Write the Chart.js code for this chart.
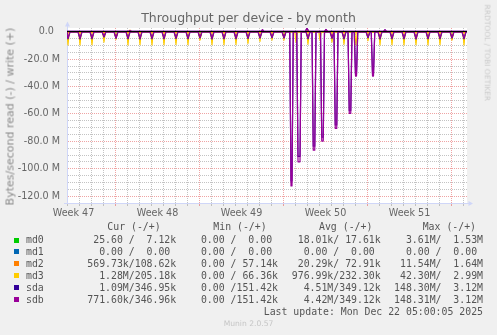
<!DOCTYPE html>
<html>
<head>
<meta charset="utf-8">
<title>Throughput per device - by month</title>
<script src="https://cdn.jsdelivr.net/npm/chart.js@4.4.1/dist/chart.umd.min.js"></script>
<style>
  html, body { margin: 0; padding: 0; background: #F0F0F0; }
  #wrap { position: relative; width: 497px; height: 335px; overflow: hidden; }
  #wrap canvas { position: absolute; left: 0; top: 0; }
  .txt { position: absolute; white-space: pre; line-height: 1; color: #666; font-family: 'DejaVu Sans', sans-serif; }
  .mono { font-family: 'DejaVu Sans Mono', monospace; font-size: 9.85px; color: #555; }
  .sw { position: absolute; width: 5px; height: 5px; }
</style>
</head>
<body>
<div id="wrap"><canvas id="c" width="497" height="335"></canvas></div>
<script>
// Time axis: hours counted from Monday 22 Dec 2025 00:00 (negative = earlier).
// Read rates are plotted below zero, write rates above; units are MB/s.

const devices = ['md0', 'md1', 'md2', 'md3', 'sda', 'sdb'];

// Week labels on the time axis
const weekLabels     = ['Week 47', 'Week 48', 'Week 49', 'Week 50', 'Week 51'];
const weekLabelHours = [-756, -588, -420, -252, -84];

// Value axis labels
const yTickValues = [0, -20, -40, -60, -80, -100, -120];
const yTickLabels = ['0.0  ', '-20.0 M', '-40.0 M', '-60.0 M', '-80.0 M', '-100.0 M', '-120.0 M'];

// Nightly read bursts (one per day)
const dayHours = [-767, -743, -719, -695, -671, -647, -623, -599, -575, -551, -527, -503,
                  -479, -455, -431, -407, -383, -359, -335, -311, -287, -263, -239, -215,
                  -191, -167, -143, -119, -95, -71, -47, -23, 1, 25];
const md0DailyRead = [-0.4, -0.3, -0.4, -0.3, -0.5, -0.4, -0.3, -0.4, -0.4, -0.3, -0.4, -0.5,
                      -0.4, -0.3, -0.4, -0.4, -0.3, -0.4, -0.5, -0.4, -0.3, -0.4, -0.4, -0.3,
                      -0.4, -0.4, -0.3, -0.4, -0.4, -0.3, -0.4, -0.4, -0.5, -0.4];
const md2DailyRead = [-0.8, -0.8, -0.7, -0.8, -5.0, -0.8, -0.7, -0.8, -0.8, -0.7, -0.8, -5.5,
                      -0.8, -0.7, -0.8, -0.8, -0.7, -0.8, -4.0, -0.8, -0.7, -0.8, -0.8, -0.7,
                      -0.8, -0.8, -0.7, -0.8, -0.8, -0.7, -0.8, -0.8, -5.5, -0.8];
const md3DailyRead = [-9.5, -9.5, -9.3, -7.5, -5.5, -9.5, -9.4, -9.5, -9.3, -9.2, -9.4, -6.0,
                      -9.3, -9.4, -9.2, -8.5, -7.0, -6.0, -6.0, -7.5, -9.0, -6.0, -7.5, -9.0,
                      -9.5, -6.5, -9.5, -9.4, -9.5, -9.3, -9.5, -9.4, -6.0, -9.5];
const sdaDailyRead = [-5.2, -5.3, -5.1, -3.8, -4.8, -5.2, -5.3, -5.1, -5.2, -5.0, -5.2, -4.5,
                      -5.3, -5.2, -5.1, -5.0, -4.6, -4.4, -4.5, null, -5.1, null, -4.8, -5.2,
                      null, -4.4, -5.3, -5.2, -5.1, -5.3, -5.2, -5.1, -4.6, -5.2];
const sdbDailyRead = [-4.6, -4.7, -4.5, -3.4, -4.4, -4.6, -4.8, -4.5, -4.6, -4.4, -4.6, -4.1,
                      -4.7, -4.6, -4.5, -4.4, -4.1, -4.0, -4.1, null, -4.5, null, -4.3, -4.6,
                      null, -4.0, -4.7, -4.6, -4.5, -4.7, -4.6, -4.5, -4.2, -4.6];

// Large sequential reads on the physical disks (centre hour, duration in hours, depth)
const spikeHours   = [-320, -305, -275, -258, -231, -203, -191, -157];
const spikeSpan    = [2, 4, 3, 3, 3, 3, 2, 2];
const sdaSpikeRead = [-109.0, -91.0, -83.5, -77.0, -68.0, -57.5, -31.0, -30.5];
const sdbSpikeRead = [-112.6, -94.9, -86.4, -79.8, -70.5, -59.6, -32.3, -32.3];

// Write activity: steady level plus a few bursts
const writeBase     = [0.02, 0, 0.07, 0.23, 0.35, 0.35];
const writeHours    = [-643, -378, -289, -251, -133];
const md0WriteBurst = [0.2, 0.3, 1.5, 0.3, 0.3];
const md2WriteBurst = [1.2, 0.6, 1.4, 0.6, 0.5];
const md3WriteBurst = [0.5, 0.9, 2.0, 1.0, 0.9];
const sdaWriteBurst = [0.7, 1.4, 2.8, 1.6, 1.4];
const sdbWriteBurst = [0.8, 1.6, 3.0, 1.8, 1.6];

// Legend statistics (bytes/s)
const curRead  = [25.60, 0, 569.73e3, 1.28e6, 1.09e6, 771.60e3];
const curWrite = [7.12e3, 0, 108.62e3, 205.18e3, 346.95e3, 346.96e3];
const minRead  = [0, 0, 0, 0, 0, 0];
const minWrite = [0, 0, 57.14e3, 66.36e3, 151.42e3, 151.42e3];
const avgRead  = [18.01e3, 0, 20.29e3, 976.99e3, 4.51e6, 4.42e6];
const avgWrite = [17.61e3, 0, 72.91e3, 232.30e3, 349.12e3, 349.12e3];
const maxRead  = [3.61e6, 0, 11.54e6, 42.30e6, 148.30e6, 148.31e6];
const maxWrite = [1.53e6, 0, 1.64e6, 2.99e6, 3.12e6, 3.12e6];

const lastUpdate = 'Last update: Mon Dec 22 05:00:05 2025';

// ---- styling ----
const colors = ['#00CC00', '#0066B3', '#FF8000', '#FFCC00', '#330099', '#990099'];
const xMin = -769, xMax = 31;
const yMin = -125, yMax = 2.8;
const AXIS = '#CFD6F8';
const GRID_MINOR = 'rgba(175,175,175,0.75)';
const GRID_MAJOR = 'rgba(225,90,90,0.55)';
const dipHalf = [3, 3, 3.5, 2.5, 4, 4];   // ramp length of a nightly burst, hours
const spikeRamp = 2.5;
const burstHalf = 3;

// ---- series assembly ----
function addEvents(points, hours, values, base, ramp, spans) {
  hours.forEach((h, i) => {
    const v = values[i];
    if (v === null || v === undefined) return;
    const s = spans ? spans[i] / 2 : 0;
    points.push({ x: h - s - ramp, y: base });
    points.push({ x: h - s, y: v });
    if (s > 0) points.push({ x: h + s, y: v });
    points.push({ x: h + s + ramp, y: base });
  });
}

const readDaily  = [md0DailyRead, null, md2DailyRead, md3DailyRead, sdaDailyRead, sdbDailyRead];
const readSpikes = [null, null, null, null, sdaSpikeRead, sdbSpikeRead];
const writeBurst = [md0WriteBurst, null, md2WriteBurst, md3WriteBurst, sdaWriteBurst, sdbWriteBurst];

const datasets = [];
devices.forEach((name, i) => {
  const rd = [{ x: xMin, y: 0 }, { x: xMax, y: 0 }];
  if (readDaily[i]) addEvents(rd, dayHours, readDaily[i], 0, dipHalf[i]);
  if (readSpikes[i]) addEvents(rd, spikeHours, readSpikes[i], 0, spikeRamp, spikeSpan);
  rd.sort((a, b) => a.x - b.x);

  const wr = [{ x: xMin, y: writeBase[i] }, { x: xMax, y: writeBase[i] }];
  if (writeBurst[i]) addEvents(wr, writeHours, writeBurst[i], writeBase[i], burstHalf);
  wr.sort((a, b) => a.x - b.x);

  const common = {
    borderColor: colors[i], backgroundColor: colors[i], borderWidth: 1.2,
    pointRadius: 0, tension: 0, fill: false, borderJoinStyle: 'round',
    order: devices.length - i
  };
  datasets.push(Object.assign({ label: name + ' read', data: rd }, common));
  datasets.push(Object.assign({ label: name + ' write', data: wr }, common));
});

// ---- grid helpers ----
const xGridHours = [];
for (let h = -768; h <= xMax; h += 24) xGridHours.push(h);
const xTicks = xGridHours.concat(weekLabelHours).sort((a, b) => a - b);
const yGridValues = [];
for (let v = -120; v <= 0; v += 5) yGridValues.push(v);

function xGridColor(v) {
  if (weekLabelHours.includes(v)) return 'rgba(0,0,0,0)';
  return (v % 168 === 0) ? GRID_MAJOR : GRID_MINOR;
}
function yGridColor(v) {
  return (v % 20 === 0) ? GRID_MAJOR : GRID_MINOR;
}

const plotBackground = {
  id: 'plotBackground',
  beforeDraw(chart) {
    const { ctx, chartArea: a } = chart;
    ctx.save();
    ctx.fillStyle = '#FFFFFF';
    ctx.fillRect(a.left, a.top, a.right - a.left, a.bottom - a.top);
    ctx.restore();
  }
};

const axisDecor = {
  id: 'axisDecor',
  afterDatasetsDraw(chart) {
    const { ctx, chartArea: a, scales } = chart;
    const y0 = Math.floor(scales.y.getPixelForValue(0)) + 0.5;
    ctx.save();
    ctx.strokeStyle = '#000000';
    ctx.lineWidth = 1;
    ctx.beginPath();
    ctx.moveTo(a.left, y0);
    ctx.lineTo(a.right, y0);
    ctx.stroke();
    ctx.restore();
  },
  afterDraw(chart) {
    const { ctx, chartArea: a } = chart;
    const xl = Math.round(a.left) + 0.5;
    const yb = Math.round(a.bottom) + 0.5;
    ctx.save();
    ctx.strokeStyle = AXIS;
    ctx.fillStyle = AXIS;
    ctx.lineWidth = 1;
    ctx.beginPath();
    ctx.moveTo(xl, a.top);
    ctx.lineTo(xl, a.top - 3);
    ctx.moveTo(a.left - 3, yb);
    ctx.lineTo(a.left, yb);
    ctx.moveTo(a.right, yb);
    ctx.lineTo(a.right + 2, yb);
    ctx.stroke();
    ctx.beginPath();
    ctx.moveTo(xl - 2.5, a.top - 1.5);
    ctx.lineTo(xl + 2.5, a.top - 1.5);
    ctx.lineTo(xl, a.top - 6.5);
    ctx.closePath();
    ctx.fill();
    ctx.beginPath();
    ctx.moveTo(a.right + 1.5, yb - 2.5);
    ctx.lineTo(a.right + 1.5, yb + 2.5);
    ctx.lineTo(a.right + 6, yb);
    ctx.closePath();
    ctx.fill();
    ctx.restore();
  }
};

Chart.defaults.font.family = "'DejaVu Sans', sans-serif";
Chart.defaults.font.size = 9.6;
Chart.defaults.color = '#666';

new Chart(document.getElementById('c'), {
  type: 'line',
  data: { datasets },
  options: {
    responsive: false,
    animation: false,
    devicePixelRatio: 1,
    events: [],
    layout: { padding: { top: 28, right: 30, bottom: 0, left: 0 } },
    plugins: { legend: { display: false }, tooltip: { enabled: false }, title: { display: false } },
    scales: {
      x: {
        type: 'linear', min: xMin, max: xMax,
        afterFit(s) { s.height = 132; },
        afterBuildTicks(s) { s.ticks = xTicks.map(v => ({ value: v })); },
        grid: {
          color: c => xGridColor(c.tick ? c.tick.value : 0),
          tickColor: c => xGridColor(c.tick ? c.tick.value : 0),
          lineWidth: 1, drawTicks: true, tickLength: 3
        },
        border: { display: true, color: AXIS, width: 1, dash: [1, 1] },
        ticks: {
          autoSkip: false, maxRotation: 0, minRotation: 0, padding: 1.6, color: '#666',
          callback: v => { const k = weekLabelHours.indexOf(v); return k >= 0 ? weekLabels[k] : ''; }
        }
      },
      y: {
        type: 'linear', min: yMin, max: yMax,
        afterFit(s) { s.width = 67; },
        afterBuildTicks(s) { s.ticks = yGridValues.map(v => ({ value: v })); },
        grid: { color: c => yGridColor(c.tick ? c.tick.value : 1), lineWidth: 1, drawTicks: false },
        border: { display: true, color: AXIS, width: 1, dash: [1, 1] },
        ticks: {
          autoSkip: false, padding: 7, color: '#666',
          callback: v => { const k = yTickValues.indexOf(v); return k >= 0 ? yTickLabels[k] : ''; }
        }
      }
    }
  },
  plugins: [plotBackground, axisDecor]
});

// ---- titles, watermark and legend table ----
const wrap = document.getElementById('wrap');
function put(text, cls, style) {
  const d = document.createElement('div');
  d.className = cls;
  d.textContent = text;
  Object.assign(d.style, style);
  wrap.appendChild(d);
  return d;
}

put('Throughput per device - by month', 'txt',
    { left: '0px', top: '12.4px', width: '497px', textAlign: 'center', fontSize: '12.5px' });
put('Bytes/second read (-) / write (+)', 'txt',
    { left: '-140.5px', top: '110.5px', width: '300px', textAlign: 'center', fontSize: '11px',
      color: '#8A8A8A', transform: 'rotate(-90deg)', transformOrigin: '50% 50%' });
put('RRDTOOL / TOBI OETIKER', 'txt',
    { left: '387px', top: '49.2px', width: '200px', textAlign: 'center', fontSize: '7.5px',
      color: '#CACACA', transform: 'rotate(90deg)', transformOrigin: '50% 50%' });

function fmtSI(v) {
  let s = ' ', x = v;
  if (Math.abs(v) >= 1e6) { x = v / 1e6; s = 'M'; }
  else if (Math.abs(v) >= 1e3) { x = v / 1e3; s = 'k'; }
  return x.toFixed(2).padStart(6, ' ') + s;
}
const pair = (r, w) => fmtSI(r) + '/' + fmtSI(w);

const headCols = [107.3, 213.3, 319.0, 422.7];
const valCols = [87.3, 189.1, 291.8, 394.1];
['Cur (-/+)', 'Min (-/+)', 'Avg (-/+)', 'Max (-/+)'].forEach((h, j) =>
  put(h, 'txt mono', { left: headCols[j] + 'px', top: (226.7 - 4.78) + 'px' }));

devices.forEach((name, i) => {
  const cy = 240 + 11.95 * i;
  const sw = document.createElement('div');
  sw.className = 'sw';
  Object.assign(sw.style, { left: '14px', top: (cy - 2.5) + 'px', background: colors[i] });
  wrap.appendChild(sw);
  put(name, 'txt mono', { left: '26px', top: (cy - 4.78) + 'px' });
  const cells = [pair(curRead[i], curWrite[i]), pair(minRead[i], minWrite[i]),
                 pair(avgRead[i], avgWrite[i]), pair(maxRead[i], maxWrite[i])];
  cells.forEach((t, j) => put(t, 'txt mono', { left: valCols[j] + 'px', top: (cy - 4.78) + 'px' }));
});

put(lastUpdate, 'txt mono', { right: '14px', top: (311.7 - 4.78) + 'px' });
put('Munin 2.0.57', 'txt', { left: '0px', width: '497px', textAlign: 'center', top: '320.3px',
                             fontSize: '7.6px', color: '#C6C6C6' });
</script>
</body>
</html>
